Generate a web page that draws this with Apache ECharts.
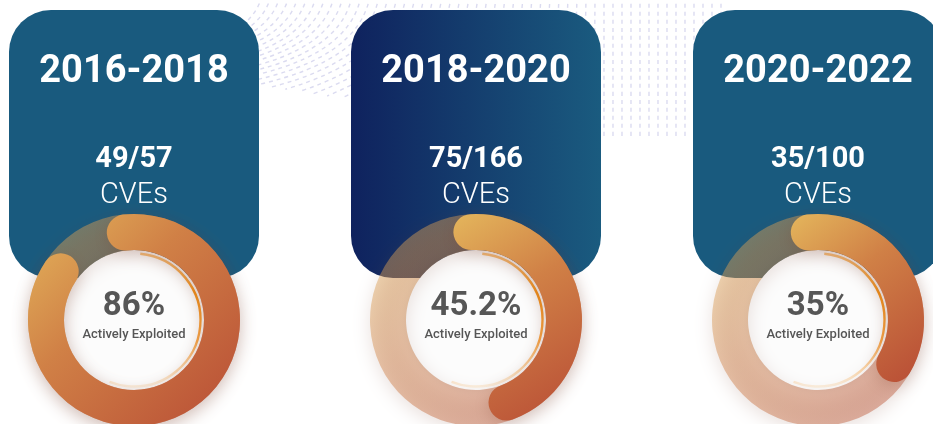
<!DOCTYPE html>
<html>
<head>
<meta charset="utf-8">
<script src="https://cdn.jsdelivr.net/npm/echarts@6/dist/echarts.min.js"></script>
<style>
  html, body { margin: 0; padding: 0; background: #ffffff; }
  #chart { width: 933px; height: 424px; }
</style>
</head>
<body>
<div id="chart"></div>
<script>
// values
const periods = ['2016-2018', '2018-2020', '2020-2022'];
const exploited = [49, 75, 35];
const totals = [57, 166, 100];
const percents = [86, 45.2, 35];
const subLabel = 'Actively Exploited';
const unitLabel = 'CVEs';

const chart = echarts.init(document.getElementById('chart'));

// layout
const centersX = [134, 476, 818];
const donutY = 320;
const outerR = 106;
const ringW = 36;
const startAngles = [96, 93, 96];
const cardW = 250, cardTop = 10, cardH = 268;

const ringGrad = () => new echarts.graphic.LinearGradient(0, 0, 1, 1, [
  { offset: 0, color: '#e4b65c' },
  { offset: 0.4, color: '#d08046' },
  { offset: 1, color: '#b84c35' }
]);

const cardFill = i => i === 1
  ? new echarts.graphic.LinearGradient(0, 0, 1, 0, [
      { offset: 0, color: '#0f225e' },
      { offset: 1, color: '#1a5b7f' }
    ])
  : '#195a7e';

const graphics = [];

// faint dashed wave pattern in the background
for (let k = 0; k < 52; k++) {
  const xt = 262 + k * 9;
  const lean = Math.max(0, 600 - xt);
  graphics.push({
    type: 'bezierCurve', z: -1, silent: true,
    shape: { x1: xt, y1: -4, cpx1: xt - lean * 0.05, cpy1: 60, x2: xt - lean * 0.55, y2: 140 - lean * 0.25 },
    style: { stroke: 'rgba(176,176,222,0.45)', lineWidth: 1.4, lineDash: [4, 4], fill: null }
  });
}

periods.forEach((p, i) => {
  const cx = centersX[i];
  graphics.push({
    type: 'rect', z: 0,
    shape: { x: cx - cardW / 2, y: cardTop, width: cardW, height: cardH, r: 42 },
    style: { fill: cardFill(i) }
  });
  graphics.push({
    type: 'text', z: 1,
    style: { text: p, x: cx, y: 72, align: 'center', verticalAlign: 'middle',
      font: 'bold 38px Roboto', fill: '#ffffff' }
  });
  graphics.push({
    type: 'text', z: 1,
    style: { text: exploited[i] + '/' + totals[i], x: cx, y: 160, align: 'center', verticalAlign: 'middle',
      font: 'bold 29px Roboto', fill: '#ffffff' }
  });
  graphics.push({
    type: 'text', z: 1,
    style: { text: unitLabel, x: cx, y: 196, align: 'center', verticalAlign: 'middle',
      font: '300 29px Roboto', fill: '#ffffff' }
  });
  // white centre disc
  graphics.push({
    type: 'circle', z: 1,
    shape: { cx: cx, cy: donutY, r: outerR - ringW },
    style: { fill: '#fcfcfc', shadowBlur: 10, shadowColor: 'rgba(0,0,0,0.12)' }
  });
  // thin orange rim inside the disc
  graphics.push({
    type: 'arc', z: 1,
    shape: { cx: cx, cy: donutY, r: outerR - ringW - 3.5, startAngle: -Math.PI * 0.47, endAngle: Math.PI * 0.62, clockwise: true },
    style: {
      fill: null, lineWidth: 2.4,
      stroke: new echarts.graphic.LinearGradient(0, 0, 0, 1, [
        { offset: 0, color: 'rgba(248,160,50,0.6)' },
        { offset: 0.3, color: '#f59218' },
        { offset: 0.65, color: 'rgba(247,150,40,0.85)' },
        { offset: 1, color: 'rgba(250,180,90,0.15)' }
      ])
    }
  });
});

const series = percents.map((v, i) => ({
  type: 'gauge',
  z: 3,
  center: [centersX[i], donutY],
  radius: outerR,
  startAngle: startAngles[i],
  endAngle: startAngles[i] - 360,
  min: 0,
  max: 100,
  progress: {
    show: true, roundCap: true, width: ringW,
    itemStyle: { color: ringGrad(), shadowBlur: 16, shadowColor: 'rgba(120,60,40,0.22)', shadowOffsetY: 4 }
  },
  axisLine: {
    lineStyle: { width: ringW, color: [[1, ringGrad()]], opacity: 0.45,
      shadowBlur: 18, shadowColor: 'rgba(120,60,40,0.35)', shadowOffsetY: 5 }
  },
  splitLine: { show: false },
  axisTick: { show: false },
  axisLabel: { show: false },
  pointer: { show: false },
  anchor: { show: false },
  title: { show: false },
  detail: {
    offsetCenter: [0, -3],
    formatter: val => '{pct|' + val + '%}\n{sub|' + subLabel + '}',
    rich: {
      pct: { fontFamily: 'Roboto', fontWeight: 'bold', fontSize: 33, color: '#565656', lineHeight: 36 },
      sub: { fontFamily: 'Roboto', fontWeight: 500, fontSize: 13, color: '#565656', lineHeight: 20 }
    }
  },
  data: [{ value: v }]
}));

chart.setOption({
  backgroundColor: '#ffffff',
  animation: false,
  graphic: { elements: graphics },
  series: series
});

window.addEventListener('resize', () => chart.resize());
</script>
</body>
</html>
